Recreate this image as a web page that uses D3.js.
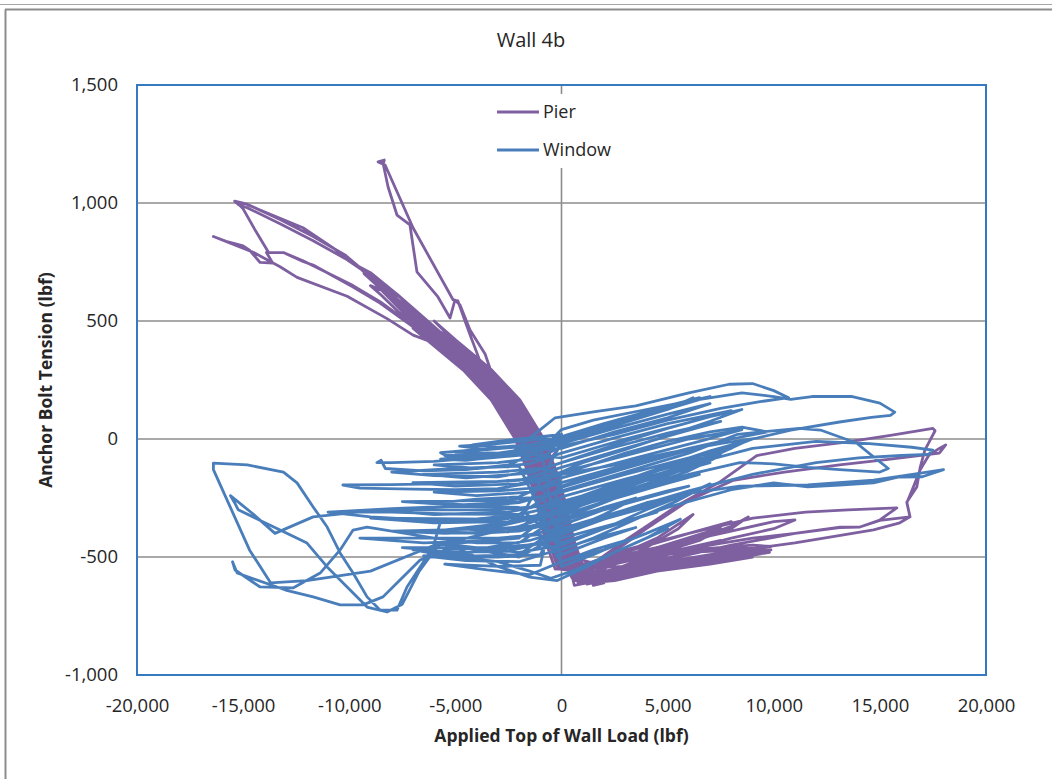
<!DOCTYPE html>
<html>
<head>
<meta charset="utf-8">
<script src="https://cdn.jsdelivr.net/npm/d3@7"></script>
<style>
  body { margin: 0; background: #fff; }
  svg { display: block; }
  text { font-family: "Open Sans", Lato, sans-serif; fill: #262626; }
</style>
</head>
<body>
<svg id="chart" width="1052" height="779"></svg>
<script>
// ---- chart data (load in lbf, tension in lbf) ----
const chartTitle = "Wall 4b";
const xAxisTitle = "Applied Top of Wall Load (lbf)";
const yAxisTitle = "Anchor Bolt Tension (lbf)";
const xTicks = [-20000, -15000, -10000, -5000, 0, 5000, 10000, 15000, 20000];
const yTicks = [-1000, -500, 0, 500, 1000, 1500];
const seriesNames = ["Pier", "Window"];
const seriesColors = ["#7e60a1", "#4a7ebb"];

// Pier: [load, tension]
const pierPoints = [
  [0,-20],
  [-870,-131],[-1430,0],[-2560,165],[-3000,200],[-2410,165],[-1280,0],[-720,-131],[-300,-258],[130,-428],[600,-551],
  [1500,-540],[2500,-520],[1800,-560],[900,-580],
  [-170,-428],[-600,-258],[-1020,-131],[-1580,0],[-2710,165],[-4030,292],[-4500,330],[-3580,292],[-2260,165],[-1130,0],[-570,-131],[-150,-258],[280,-428],[750,-551],
  [2000,-530],[4000,-500],[3000,-540],[1500,-580],[500,-590],
  [-320,-428],[-750,-258],[-1170,-131],[-1730,0],[-2860,165],[-4180,292],[-5880,419],[-6500,470],[-5130,419],[-3430,292],[-2110,165],[-980,0],[-420,-131],[0,-258],[430,-428],[900,-551],
  [2500,-520],[4500,-490],[5500,-470],[4500,-510],[3000,-550],[1500,-590],[600,-600],
  [-470,-428],[-900,-258],[-1320,-131],[-1880,0],[-3010,165],[-4330,292],[-6030,419],[-7000,510],[-7600,560],[-6500,490],[-4980,419],[-3280,292],[-1960,165],[-830,0],[-270,-131],[150,-258],[580,-428],[1050,-551],
  [3000,-500],[5000,-460],[6500,-420],[5500,-460],[3500,-520],[1800,-580],[800,-600],
  [-620,-428],[-1050,-258],[-1470,-131],[-2030,0],[-3160,165],[-4480,292],[-6180,419],[-7700,540],[-8500,610],[-9000,650],[-8200,620],[-7200,540],[-5730,419],[-4030,292],[-2710,165],[-1580,0],[-1020,-131],[-600,-258],[-170,-428],[300,-551],
  [2000,-520],[4500,-470],[7000,-400],[7500,-380],[6500,-430],[4000,-500],[2000,-570],[900,-600],
  [-770,-428],[-1200,-258],[-1620,-131],[-2180,0],[-3310,165],[-3840,330],[-4300,440],[-4545,500],[-4880,585],[-5110,590],[-6990,894],[-8310,1161],[-8640,1174],[-8350,1182],[-8400,1165],[-8170,1068],[-7750,949],[-7140,907],[-6810,708],[-5820,602],[-5250,513],[-5020,589],[-4780,568],[-4310,462],[-3600,360],[-2860,165],[-1730,0],[-1170,-131],[-750,-258],[-320,-428],[150,-551],
  [2000,-540],[5000,-470],[8000,-380],[8800,-330],[8000,-370],[5500,-450],[3000,-540],[1200,-610],[600,-620],
  [130,-428],[-300,-258],[-720,-131],[-1280,0],[-2410,165],[-3730,292],[-5430,419],[-7600,580],[-9490,725],[-10760,810],[-12180,895],[-14060,965],[-15000,1000],[-15400,1008],[-15200,992],[-14810,980],[-13260,912],[-11700,840],[-10200,765],[-8800,680],[-7600,600],[-5580,419],[-3880,292],[-2560,165],[-1430,0],[-870,-131],[-450,-258],[-20,-428],[450,-551],
  [3000,-500],[6000,-480],[9400,-465],[8000,-480],[5000,-520],[2500,-580],[1000,-610],
  [280,-428],[-150,-258],[-570,-131],[-1130,0],[-2260,165],[-3580,292],[-5280,419],[-7500,575],[-10200,780],[-11700,858],[-13260,930],[-14810,995],[-15300,1003],[-15000,975],[-14400,880],[-13800,790],[-13100,790],[-12180,752],[-11700,737],[-9820,644],[-8550,576],[-6990,475],[-6190,419],[-4480,292],[-3160,165],[-2030,0],[-1470,-131],[-1050,-258],[-620,-428],[-150,-551],
  [2000,-510],[5000,-450],[8000,-390],[10000,-350],[11000,-343],[10000,-380],[8000,-420],[5000,-490],[2500,-560],[1200,-600],
  [430,-428],[0,-258],[-420,-131],[-980,0],[-2110,165],[-3430,292],[-4500,350],[-5500,390],[-6990,440],[-8220,510],[-10100,605],[-12460,685],[-13260,730],[-14500,790],[-15600,830],[-16400,858],[-15800,838],[-15000,818],[-14700,800],[-14200,748],[-13600,745],[-13900,790],[-13100,790],[-12180,755],[-9820,650],[-8550,582],[-6990,480],[-6190,425],[-4630,292],[-3310,165],[-2180,0],[-1620,-131],[-1200,-258],[-770,-428],[-300,-551],
  [3000,-540],[6500,-500],[9870,-470],[8000,-500],[5000,-540],[2500,-590],[1200,-615],
  [580,-428],[150,-258],[-270,-131],[-830,0],[-1960,165],[-3280,292],[-4980,419],[-6000,500],[-5500,455],[-4330,292],[-3010,165],[-1880,0],[-1320,-131],[-900,-258],[-470,-428],[0,-551],
  [1000,-560],[3000,-430],[5500,-280],[7500,-180],[9200,-70],[11000,-40],[13400,-13],[15500,15],[17000,38],[17500,45],[17600,35],[17120,-47],[16900,-120],[16740,-203],[16270,-267],[16420,-330],[15940,-355],[14700,-385],[13000,-410],[11000,-440],[9000,-465],[7000,-490],[5000,-520],[3000,-560],[1500,-600],[800,-610],
  [-320,-428],[-750,-258],[-1170,-131],[-1730,0],[-2860,165],[-4180,292],[-5880,419],[-8000,600],[-9640,735],[-9000,705],[-7700,610],[-5280,419],[-3580,292],[-2260,165],[-1130,0],[-570,-131],[-150,-258],[280,-428],[750,-551],
  [1500,-540],[4000,-380],[6000,-260],[8100,-175],[10500,-140],[13100,-110],[15500,-85],[17800,-60],[18100,-25],[17800,-40],[17300,-70],[16900,-130],[16500,-220],[16270,-270],[16420,-330],[15000,-345],[14060,-373],[13100,-375],[11000,-400],[9000,-420],[7000,-450],[5000,-490],[3000,-540],[1500,-590],[700,-600],
  [-170,-428],[-600,-258],[-1020,-131],[-1580,0],[-2710,165],[-4030,292],[-5730,419],[-7800,590],[-8500,640],[-7400,560],[-5430,419],[-3730,292],[-2410,165],[-1280,0],[-720,-131],[-300,-258],[130,-428],[600,-551],
  [3000,-480],[6000,-400],[9020,-335],[11500,-310],[13500,-300],[15800,-292],[15000,-343],[14060,-373],[13120,-373],[11000,-400],[8000,-450],[5000,-510],[2500,-580],[1000,-610],
  [-770,-428],[-1200,-258],[-1620,-131],[-2180,0],[-3310,165],[-4630,292],[-6330,419],[-7000,470],[-6200,445],[-4980,400],[-3280,280],[-1960,150],[-830,0],[-270,-131],[150,-258],[580,-428],[1050,-551],
  [3000,-500],[6000,-470],[9000,-450],[9900,-455],[8000,-490],[5000,-530],[2000,-590],[1000,-600],
  [-620,-428],[-1050,-258],[-1470,-131],[-2030,0],[-3160,165],[-4480,292],[-6180,419],[-5130,400],[-3430,280],[-2110,150],[-980,0],[-420,-131],[0,-258],[430,-428],[900,-551],
  [3000,-510],[5500,-480],[8000,-460],[9300,-465],[7000,-500],[4000,-550],[2000,-600],[1500,-615],
  [-696,-428],[-1120,-258],[-1543,-131],[-2109,0],[-3239,165],[-4558,292],[-6253,419],[-7200,520],[-6600,480],[-5353,419],[-3658,292],[-2339,165],[-1209,0],[-643,-131],[-220,-258],[204,-428],[675,-551],
  [2000,-560],[5000,-520],[8000,-490],[9800,-480],[8500,-500],[6000,-530],[3000,-580],[1500,-610],
  [-546,-428],[-970,-258],[-1393,-131],[-1959,0],[-3089,165],[-4408,292],[-6103,419],[-7500,540],[-8800,660],[-8000,610],[-6600,500],[-5203,419],[-3508,292],[-2189,165],[-1059,0],[-493,-131],[-70,-258],[354,-428],[825,-551],
  [2500,-500],[4500,-420],[6200,-320],[5500,-380],[4000,-460],[2000,-550],[1200,-590],
  [-396,-428],[-820,-258],[-1243,-131],[-1809,0],[-2939,165],[-4258,292],[-5953,419],[-6600,470],[-5053,419],[-3358,292],[-2039,165],[-909,0],[-343,-131],[80,-258],[504,-428],[975,-551],
  [2000,-580],[5000,-540],[7500,-510],[9000,-500],[7000,-530],[4500,-560],[2500,-600],[1300,-610],
  [-246,-428],[-670,-258],[-1093,-131],[-1659,0],[-2789,165],[-4108,292],[-5803,419],[-7700,570],[-9300,700],[-8400,650],[-7000,530],[-5503,419],[-3808,292],[-2489,165],[-1359,0],[-793,-131],[-370,-258],[54,-428],[525,-551],
  [3000,-470],[6000,-400],[8000,-350],[7000,-390],[4500,-460],[2500,-530],[1000,-580],
  [-96,-428],[-520,-258],[-943,-131],[-1509,0],[-2639,165],[-3958,292],[-5653,419],[-6400,470],[-6000,430],[-4408,280],[-3089,155],[-1959,0],[-1393,-131],[-970,-258],[-546,-428],[-75,-551],
  [1500,-570],[4000,-530],[6500,-500],[8500,-485],[7000,-510],[4500,-550],[2500,-595],[1500,-605],
  [-20,-428],[-450,-258],[-870,-131],[-1430,0],[-2560,165],[-3880,292],[-5580,419],[-7200,540],[-6500,480],[-4900,350],[-3000,190],[-1500,10],[-600,-200],[0,-350],[500,-500],
  [2000,-540],[4000,-500],[6500,-450],[7500,-430],[6000,-480],[3500,-540],[1800,-600],[1500,-620],[2000,-610]
];

// Window: [load, tension]
const windowPoints = [
  [0,20],
  [-1500,5],[-3000,-10],[-4200,-25],[-3000,-35],[-1500,-25],[0,5],[1500,45],[3000,85],[3800,105],[3000,75],[1500,35],[0,0],
  [-1000,0],[-3000,-20],[-4800,-30],[-3500,-45],[-1500,-30],[0,10],[2500,75],[5000,140],[6500,175],[5000,125],[2500,60],[0,-5],
  [-2000,-30],[-4000,-45],[-5700,-58],[-5400,-72],[-3500,-68],[-1800,-50],[0,-10],[2000,50],[4000,105],[5600,150],[6200,175],[5000,125],[3000,70],[1000,15],[-500,-25],
  [-1000,-40],[-3000,-60],[-5500,-70],[-4000,-85],[-1500,-65],[0,-20],[2500,45],[5000,105],[7000,150],[5000,90],[2500,30],[0,-40],
  [-2500,-55],[-4500,-75],[-5700,-85],[-4500,-90],[-2500,-70],[-1000,40],[-300,90],[1500,115],[3500,140],[6000,195],[7900,232],[9000,235],[10000,205],[10700,175],[9500,160],[7500,130],[5000,80],[2500,20],[0,-30],
  [-1000,-80],[-3000,-100],[-6000,-110],[-4000,-125],[-1500,-105],[0,-60],[2500,5],[5000,65],[8000,120],[6000,70],[3000,0],[0,-80],
  [-2000,-60],[-4000,-80],[-6000,-95],[-8000,-100],[-8700,-100],[-8500,-90],[-8300,-125],[-6500,-135],[-4500,-130],[-2500,-110],[-1000,-50],[0,40],[1500,80],[4000,125],[6000,160],[8500,195],[10000,180],[10800,168],[11800,180],[13700,180],[15000,152],[15700,114],[15500,100],[14600,92],[13100,72],[10800,38],[9200,4],[7600,-17],[5000,-60],[2500,-110],[0,-150],
  [-1000,-125],[-3000,-140],[-6500,-150],[-4500,-165],[-1500,-145],[0,-100],[2500,-35],[5000,25],[7500,75],[5500,25],[3000,-40],[0,-120],
  [-2000,-175],[-4000,-185],[-6000,-190],[-8000,-193],[-10300,-195],[-9500,-208],[-7000,-212],[-5000,-215],[-3000,-210],[-1000,-180],[1000,-120],[3000,-60],[5000,-10],[7000,30],[8500,50],[9700,30],[8000,0],[6000,-40],[4000,-90],[2000,-140],[0,-200],
  [-1000,-165],[-3000,-180],[-7000,-185],[-5000,-200],[-2000,-190],[0,-140],[3000,-70],[6000,0],[8500,40],[6500,-10],[3500,-80],[0,-165],
  [-2000,-245],[-4000,-255],[-5700,-270],[-4000,-285],[-2000,-270],[0,-220],[3000,-140],[6000,-60],[8300,20],[11200,45],[12200,38],[13900,-17],[14700,-76],[15400,-125],[15000,-140],[13100,-130],[11600,-120],[10000,-105],[8400,-100],[6000,-150],[3000,-230],[0,-300],
  [-1000,-205],[-3000,-220],[-6000,-225],[-4000,-240],[-1500,-225],[0,-185],[3000,-110],[6000,-40],[7500,-10],[5500,-60],[3000,-125],[0,-205],
  [-2000,-320],[-5000,-318],[-8000,-310],[-9600,-310],[-11700,-330],[-13500,-400],[-14500,-320],[-15600,-240],[-15400,-270],[-15230,-300],[-13260,-386],[-11990,-441],[-11040,-542],[-10100,-627],[-9160,-712],[-8220,-733],[-7500,-700],[-6700,-560],[-5800,-450],[-4000,-410],[-2000,-370],[0,-310],
  [2000,-250],[4000,-190],[6000,-120],[7500,-70],[6000,-135],[4000,-200],[2000,-270],[0,-340],
  [-1000,-245],[-3000,-260],[-7500,-265],[-5000,-280],[-2000,-265],[0,-225],[3000,-150],[6000,-80],[8000,-40],[6000,-100],[3000,-170],[0,-245],
  [-2000,-380],[-4000,-385],[-5000,-380],[-3000,-370],[-1000,-330],[1000,-260],[3000,-190],[6000,-110],[9000,-40],[12000,-10],[14500,-20],[16500,-35],[17500,-47],[17300,-65],[16000,-70],[14000,-80],[12000,-100],[9000,-150],[6000,-220],[3000,-300],[0,-380],
  [-1000,-285],[-3000,-300],[-8500,-300],[-6000,-320],[-2500,-310],[0,-265],[3000,-190],[5500,-130],[7000,-100],[5000,-150],[2500,-215],[0,-285],
  [-2000,-420],[-4000,-435],[-6000,-450],[-9000,-560],[-12000,-600],[-13700,-610],[-14700,-470],[-15600,-290],[-16400,-130],[-16400,-102],[-14800,-110],[-13100,-140],[-12460,-186],[-11700,-288],[-11040,-373],[-10430,-483],[-9820,-568],[-9160,-669],[-8550,-725],[-7750,-725],[-7280,-627],[-6660,-542],[-6050,-458],[-5720,-356],[-4000,-340],[-2000,-320],[0,-280],
  [2500,-200],[5000,-120],[7500,-40],[8800,-5],[7000,-80],[4500,-160],[2000,-240],[0,-300],
  [-1000,-325],[-3000,-340],[-9000,-335],[-6000,-355],[-2500,-350],[0,-300],[2500,-240],[5000,-180],[6500,-150],[4500,-200],[2000,-265],[0,-325],
  [-2000,-440],[-4000,-440],[-6000,-420],[-8000,-390],[-9160,-373],[-9820,-386],[-10430,-470],[-11370,-568],[-12650,-631],[-14200,-627],[-15380,-555],[-15500,-520],[-15280,-568],[-13000,-640],[-11700,-669],[-10430,-703],[-9350,-703],[-8410,-669],[-7610,-597],[-6660,-513],[-5500,-470],[-3500,-460],[-1500,-430],[0,-390],
  [2000,-330],[4000,-270],[6000,-230],[8400,-200],[11600,-195],[14700,-174],[16300,-153],[18000,-130],[17000,-160],[15900,-161],[14700,-186],[13100,-195],[11600,-203],[10000,-186],[8000,-215],[5000,-290],[2000,-380],[0,-440],
  [-1000,-365],[-3000,-380],[-8000,-390],[-5500,-400],[-2500,-390],[0,-340],[2500,-280],[5000,-220],[6000,-200],[4000,-250],[2000,-300],[0,-365],
  [-2000,-490],[-4000,-495],[-6000,-480],[-7000,-470],[-5000,-500],[-3000,-520],[-1500,-560],[-500,-590],[500,-560],[2000,-500],[4000,-420],[5600,-340],[4000,-400],[2000,-470],[0,-520],
  [-1000,-405],[-3000,-420],[-9500,-420],[-6500,-440],[-3000,-430],[0,-380],[2500,-320],[4500,-270],[5500,-250],[4000,-290],[2000,-340],[0,-405],
  [-2000,-500],[-4000,-470],[-6000,-440],[-4000,-460],[-2000,-480],[0,-450],[2000,-380],[4000,-300],[6000,-230],[7000,-190],[5500,-260],[3500,-340],[1500,-420],[0,-470],
  [-1000,-445],[-3000,-460],[-7500,-460],[-5000,-480],[-2500,-475],[0,-420],[2500,-360],[4500,-310],[3000,-350],[1000,-410],[0,-445],
  [-2000,-290],[-5000,-285],[-8000,-295],[-11000,-310],[-9000,-330],[-6000,-345],[-3000,-340],[-1000,-300],[1000,-240],[3000,-175],[5000,-110],[7000,-50],[9000,0],[7000,-70],[5000,-140],[3000,-210],[1000,-280],[0,-320],
  [-1000,-490],[-3000,-500],[-6500,-495],[-4500,-515],[-2000,-520],[0,-465],[2000,-410],[3500,-375],[2000,-420],[0,-490],
  [-2000,-115],[-5000,-125],[-8000,-140],[-6000,-155],[-3000,-160],[-1000,-130],[1000,-70],[3000,-10],[5000,45],[7000,95],[8500,125],[7000,75],[5000,15],[3000,-45],[1000,-100],[0,-140],
  [-1000,-535],[-3000,-540],[-5500,-530],[-3500,-555],[-1500,-575],[0,-520],[1500,-470],[3000,-430],[1500,-490],[0,-540],
  [-1000,-20],[-3000,-40],[-5000,-55],[-3000,-60],[-1000,-35],[0,10],[2000,65],[4000,115],[6000,160],[7000,180],[5500,140],[3500,85],[1500,30],[0,-15],
  [-2000,-350],[-4000,-370],[-6000,-390],[-4000,-400],[-2000,-390],[0,-350],[2000,-290],[3500,-250],[2000,-320],[0,-400],[-1000,-440],[-3000,-470],[-5000,-460],
  [-3000,-540],[-1500,-585],[-200,-600],[1000,-550],[2500,-480],[4000,-420],[5000,-380]
];

const seriesData = [pierPoints, windowPoints];

// ---- layout ----
const W = 1052, H = 779;
const plot = { left: 137, right: 986, top: 85, bottom: 675 };
const svg = d3.select("#chart");

const x = d3.scaleLinear().domain([xTicks[0], xTicks[xTicks.length - 1]]).range([plot.left, plot.right]);
const y = d3.scaleLinear().domain([yTicks[0], yTicks[yTicks.length - 1]]).range([plot.bottom, plot.top]);

const locale = d3.formatLocale({ decimal: ".", thousands: ",", grouping: [3], currency: ["$", ""], minus: "-" });
const fmt = locale.format(",");

svg.append("rect").attr("width", W).attr("height", H).attr("fill", "#fff");

// outer chart frame
svg.append("line").attr("x1", 0).attr("x2", W).attr("y1", 4.5).attr("y2", 4.5)
  .attr("stroke", "#a6a6a6").attr("stroke-width", 1.2);
svg.append("line").attr("x1", 5).attr("x2", W).attr("y1", 9.5).attr("y2", 9.5)
  .attr("stroke", "#8c8c8c").attr("stroke-width", 2);
svg.append("line").attr("x1", 5.5).attr("x2", 5.5).attr("y1", 9.5).attr("y2", H)
  .attr("stroke", "#8c8c8c").attr("stroke-width", 2);

// title
svg.append("text").attr("x", 531).attr("y", 47).attr("text-anchor", "middle")
  .style("font-size", "20px").text(chartTitle);

// horizontal gridlines
svg.append("g").selectAll("line")
  .data(yTicks.filter(d => d !== yTicks[0] && d !== yTicks[yTicks.length - 1]))
  .join("line")
  .attr("x1", plot.left).attr("x2", plot.right)
  .attr("y1", d => y(d)).attr("y2", d => y(d))
  .attr("stroke", "#8c8c8c").attr("stroke-width", 1.6);

// vertical zero line
svg.append("line").attr("x1", x(0)).attr("x2", x(0)).attr("y1", plot.top).attr("y2", plot.bottom)
  .attr("stroke", "#8c8c8c").attr("stroke-width", 1.6);

// tick labels via d3 axes
const xAxis = d3.axisBottom(x).tickValues(xTicks).tickFormat(fmt).tickSize(0).tickPadding(24);
const yAxis = d3.axisLeft(y).tickValues(yTicks).tickFormat(fmt).tickSize(0).tickPadding(19);

const gx = svg.append("g").attr("transform", `translate(0,${plot.bottom})`).call(xAxis);
const gy = svg.append("g").attr("transform", `translate(${plot.left},0)`).call(yAxis);
[gx, gy].forEach(g => {
  g.select(".domain").remove();
  g.selectAll("text").style("font-size", "18.5px").style("font-family", "'Open Sans', Lato, sans-serif").attr("fill", "#262626");
});

// axis titles
svg.append("text").attr("x", (plot.left + plot.right) / 2).attr("y", 742).attr("text-anchor", "middle")
  .style("font-size", "17.5px").style("font-weight", "bold").text(xAxisTitle);
svg.append("text").attr("transform", `translate(52,${(plot.top + plot.bottom) / 2}) rotate(-90)`)
  .attr("text-anchor", "middle").style("font-size", "17.5px").style("font-weight", "bold").text(yAxisTitle);

// series
svg.append("clipPath").attr("id", "plotClip").append("rect")
  .attr("x", plot.left).attr("y", plot.top).attr("width", plot.right - plot.left).attr("height", plot.bottom - plot.top);

const line = d3.line().x(d => x(d[0])).y(d => y(d[1]));
svg.append("g").attr("clip-path", "url(#plotClip)")
  .selectAll("path").data(seriesData).join("path")
  .attr("d", line)
  .attr("fill", "none")
  .attr("stroke", (d, i) => seriesColors[i])
  .attr("stroke-width", 2.8)
  .attr("stroke-linejoin", "round")
  .attr("stroke-linecap", "round");

// legend
const legend = svg.append("g");
legend.append("rect").attr("x", 490).attr("y", 94).attr("width", 132).attr("height", 74).attr("fill", "#fff");
const items = legend.selectAll("g").data(seriesNames).join("g")
  .attr("transform", (d, i) => `translate(497,${112 + i * 38})`);
items.append("line").attr("x1", 0).attr("x2", 42).attr("y1", 0).attr("y2", 0)
  .attr("stroke", (d, i) => seriesColors[i]).attr("stroke-width", 3);
items.append("text").attr("x", 46).attr("y", 0).attr("dy", "0.35em")
  .style("font-size", "18px").text(d => d);

// plot border
svg.append("rect").attr("x", plot.left).attr("y", plot.top)
  .attr("width", plot.right - plot.left).attr("height", plot.bottom - plot.top)
  .attr("fill", "none").attr("stroke", "#3579c1").attr("stroke-width", 2);
</script>
</body>
</html>
